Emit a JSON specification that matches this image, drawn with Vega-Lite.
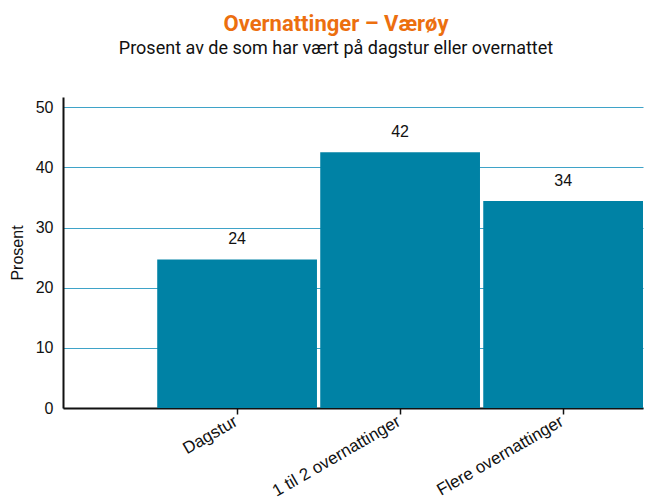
{
  "$schema": "https://vega.github.io/schema/vega-lite/v6.json",
  "width": 580,
  "height": 311,
  "autosize": {"type": "none"},
  "padding": {"left": 63, "top": 97, "right": 3, "bottom": 89},
  "background": "white",
  "title": {
    "text": "Overnattinger – Værøy",
    "subtitle": "Prosent av de som har vært på dagstur eller overnattet",
    "anchor": "middle",
    "frame": "group",
    "dx": -17,
    "offset": 38,
    "font": "Roboto",
    "fontSize": 22,
    "fontWeight": "bold",
    "color": "#ec6f0f",
    "subtitleFont": "Roboto",
    "subtitleFontSize": 18,
    "subtitleColor": "#111111",
    "subtitlePadding": 4
  },
  "data": {
    "values": [
      {"kategori": "Dagstur", "prosent": 24.7, "etikett": "24"},
      {"kategori": "1 til 2 overnattinger", "prosent": 42.5, "etikett": "42"},
      {"kategori": "Flere overnattinger", "prosent": 34.4, "etikett": "34"}
    ]
  },
  "encoding": {
    "x": {
      "field": "kategori",
      "type": "nominal",
      "sort": null,
      "scale": {"paddingInner": 0.02, "paddingOuter": 0.289, "align": 1},
      "axis": {
        "title": null,
        "labelAngle": -30,
        "labelAlign": "right",
        "labelBaseline": "top",
        "labelFont": "Liberation Sans",
        "labelFontSize": 17,
        "labelColor": "#111111",
        "labelPadding": -1,
        "labelOffset": -5,
        "labelLimit": 300,
        "labelOverlap": false,
        "labelBound": false,
        "domainColor": "#111111",
        "domainWidth": 2,
        "tickColor": "#111111",
        "tickWidth": 1.5,
        "tickSize": 6,
        "grid": false
      }
    },
    "y": {
      "field": "prosent",
      "type": "quantitative",
      "scale": {"domain": [0, 51.7], "nice": false},
      "axis": {
        "title": "Prosent",
        "titleFont": "Liberation Sans",
        "titleFontSize": 16,
        "titleFontWeight": "normal",
        "titleColor": "#111111",
        "titlePadding": 10,
        "values": [0, 10, 20, 30, 40, 50],
        "labelFont": "Liberation Sans",
        "labelFontSize": 16,
        "labelColor": "#111111",
        "labelPadding": 10,
        "ticks": false,
        "domainColor": "#111111",
        "domainWidth": 2,
        "grid": true,
        "gridColor": "#3fa3c8",
        "gridWidth": 1
      }
    }
  },
  "layer": [
    {"mark": {"type": "bar", "color": "#0082a5"}},
    {
      "mark": {"type": "text", "baseline": "bottom", "dy": -12, "font": "Liberation Sans", "fontSize": 16, "color": "#111111"},
      "encoding": {"text": {"field": "etikett"}}
    }
  ],
  "config": {"view": {"stroke": null}}
}
